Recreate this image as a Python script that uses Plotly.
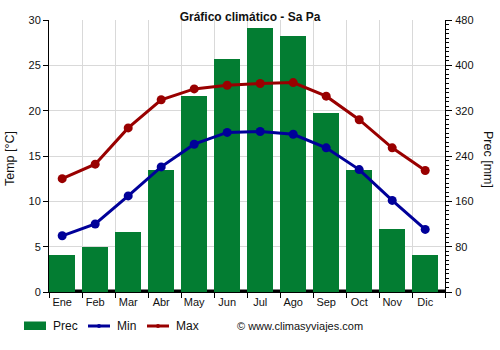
import plotly.graph_objects as go

months = ["Ene", "Feb", "Mar", "Abr", "May", "Jun", "Jul", "Ago", "Sep", "Oct", "Nov", "Dic"]
prec_mm = [65, 80, 106, 215, 346, 411, 466, 452, 316, 215, 111, 65]
temp_min = [6.2, 7.5, 10.6, 13.8, 16.3, 17.6, 17.7, 17.4, 15.9, 13.5, 10.1, 6.9]
temp_max = [12.5, 14.1, 18.1, 21.2, 22.4, 22.8, 23.0, 23.1, 21.6, 19.0, 15.9, 13.4]

GREEN = "#037d32"
BLUE = "#000099"
RED = "#990000"
GRID = "#d9d9d9"
FONT = "Liberation Sans, Arial, sans-serif"

W, H = 500, 350
L, R, T, B = 49, 55, 20, 58
PW, PH = W - L - R, H - T - B

idx = list(range(len(months)))
bounds = [i - 0.4 for i in range(len(months) + 1)]


def px(x):
    return (x - L) / PW


def py(y):
    return (H - B - y) / PH


fig = go.Figure()

fig.add_trace(go.Bar(x=idx, y=prec_mm, width=0.8, marker=dict(color=GREEN, line=dict(width=0)),
                     name="Prec", xaxis="x", yaxis="y", showlegend=False))
fig.add_trace(go.Scatter(x=idx, y=temp_min, mode="lines+markers", name="Min",
                         line=dict(color=BLUE, width=3), marker=dict(size=9, color=BLUE),
                         xaxis="x", yaxis="y2", showlegend=False))
fig.add_trace(go.Scatter(x=idx, y=temp_max, mode="lines+markers", name="Max",
                         line=dict(color=RED, width=3), marker=dict(size=9, color=RED),
                         xaxis="x", yaxis="y2", showlegend=False))
# carrier trace for the band-boundary axis (grid + ticks)
fig.add_trace(go.Scatter(x=[bounds[0]], y=[0], mode="markers", marker=dict(opacity=0),
                         xaxis="x2", yaxis="y", showlegend=False, hoverinfo="skip"))

shapes = [
    # dark strip along the base of the plot
    dict(type="rect", xref="paper", yref="paper", x0=0, x1=1, y0=0, y1=2.5 / PH,
         fillcolor="black", line=dict(width=0), layer="below"),
    # legend symbols
    dict(type="rect", xref="paper", yref="paper", x0=px(24), x1=px(46), y0=py(330), y1=py(321.5),
         fillcolor=GREEN, line=dict(width=0)),
    dict(type="line", xref="paper", yref="paper", x0=px(88), x1=px(110), y0=py(326), y1=py(326),
         line=dict(color=BLUE, width=3)),
    dict(type="circle", xref="paper", yref="paper", x0=px(97), x1=px(101), y0=py(328), y1=py(324),
         fillcolor=BLUE, line=dict(width=0)),
    dict(type="line", xref="paper", yref="paper", x0=px(147), x1=px(169), y0=py(326), y1=py(326),
         line=dict(color=RED, width=3)),
    dict(type="circle", xref="paper", yref="paper", x0=px(156), x1=px(160), y0=py(328), y1=py(324),
         fillcolor=RED, line=dict(width=0)),
]

annotations = [
    dict(text="Prec", x=px(51), y=py(326), xref="paper", yref="paper", xanchor="left", yanchor="middle",
         showarrow=False, font=dict(size=12, color="#111", family=FONT)),
    dict(text="Min", x=px(115), y=py(326), xref="paper", yref="paper", xanchor="left", yanchor="middle",
         showarrow=False, font=dict(size=12, color="#111", family=FONT)),
    dict(text="Max", x=px(174), y=py(326), xref="paper", yref="paper", xanchor="left", yanchor="middle",
         showarrow=False, font=dict(size=12, color="#111", family=FONT)),
    dict(text="© www.climasyviajes.com", x=px(235), y=py(326), xref="paper", yref="paper",
         xanchor="left", yanchor="middle", showarrow=False, font=dict(size=11, color="#111", family=FONT)),
    dict(text="Temp [°C]", x=px(10), y=py(159), xref="paper", yref="paper", textangle=-90,
         xanchor="center", yanchor="middle", showarrow=False, font=dict(size=12.5, color="#111", family=FONT)),
    dict(text="Prec [mm]", x=px(488), y=py(159), xref="paper", yref="paper", textangle=90,
         xanchor="center", yanchor="middle", showarrow=False, font=dict(size=12.5, color="#111", family=FONT)),
]

fig.update_layout(
    width=W, height=H,
    margin=dict(l=L, r=R, t=T, b=B, pad=0),
    paper_bgcolor="white", plot_bgcolor="white",
    font=dict(family=FONT, size=11, color="#111"),
    title=dict(text="<b>Gráfico climático - Sa Pa</b>", x=0.5, xanchor="center",
               y=1 - 17 / H, yanchor="middle", yref="container",
               font=dict(size=12, color="#111", family=FONT)),
    xaxis=dict(range=[bounds[0], bounds[-1]], tickmode="array", tickvals=idx, ticktext=months,
               showgrid=False, ticks="", showline=True, linecolor="black", linewidth=1,
               zeroline=False, tickfont=dict(size=11), fixedrange=True),
    xaxis2=dict(range=[bounds[0], bounds[-1]], overlaying="x", anchor="y", side="bottom",
                tickmode="array", tickvals=bounds, showticklabels=False, showgrid=True,
                gridcolor=GRID, gridwidth=1, ticks="outside", ticklen=5, tickcolor="black",
                showline=False, zeroline=False),
    yaxis=dict(range=[0, 480], tickmode="linear", tick0=0, dtick=80, side="right",
               showgrid=True, gridcolor=GRID, gridwidth=1, showline=True, linecolor="black",
               ticks="outside", ticklen=6, tickcolor="black", zeroline=False,
               minor=dict(dtick=8, tick0=0, ticks="outside", ticklen=3, tickcolor="black", showgrid=False),
               tickfont=dict(size=11), ticklabelstandoff=1),
    yaxis2=dict(range=[0, 30], tickmode="linear", tick0=0, dtick=5, side="left", overlaying="y",
                showgrid=False, showline=True, linecolor="black", ticks="outside", ticklen=5,
                tickcolor="black", zeroline=False, tickfont=dict(size=11)),
    shapes=shapes,
    annotations=annotations,
    bargap=0,
    showlegend=False,
)

fig.write_html("out.html")
